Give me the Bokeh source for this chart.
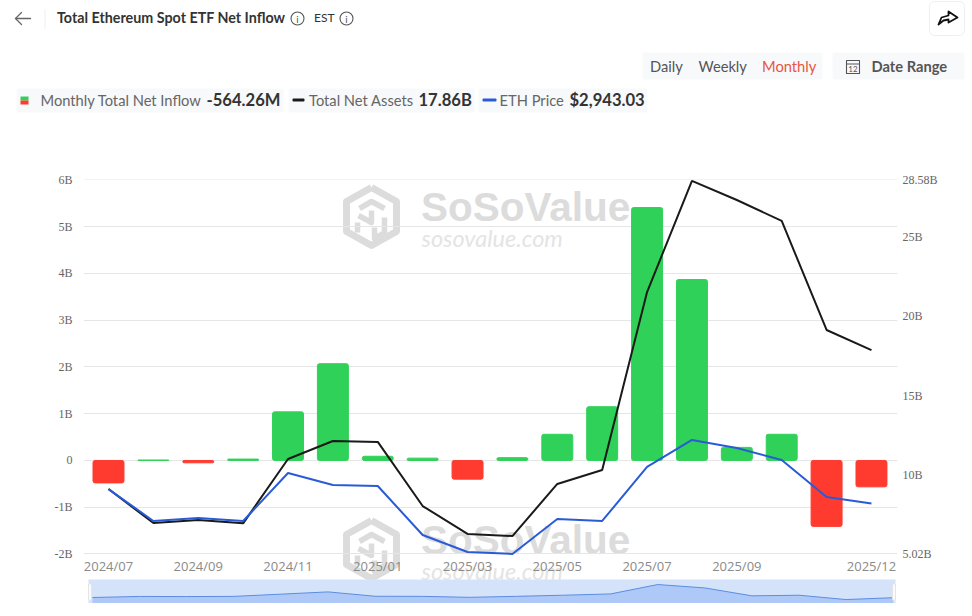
from bokeh.plotting import figure
from bokeh.embed import file_html
from bokeh.resources import INLINE
from bokeh.layouts import column
from bokeh.core.properties import value
from bokeh.models import Range1d, LinearAxis, FixedTicker, ColumnDataSource

months = ["2024/07", "2024/08", "2024/09", "2024/10", "2024/11", "2024/12",
          "2025/01", "2025/02", "2025/03", "2025/04", "2025/05", "2025/06",
          "2025/07", "2025/08", "2025/09", "2025/10", "2025/11", "2025/12"]
net_inflow = [-0.48, 0.01, -0.05, 0.03, 1.04, 2.07, 0.09, 0.05, -0.40, 0.06,
              0.56, 1.15, 5.41, 3.87, 0.28, 0.56, -1.41, -0.564]
net_assets = [9.11, 6.97, 7.16, 6.95, 11.0, 12.14, 12.08, 8.04, 6.28, 6.15,
              9.43, 10.31, 21.52, 28.52, 27.32, 26.0, 19.13, 17.86]
eth_price = [3270, 2545, 2613, 2545, 3638, 3365, 3342, 2226, 1839, 1793,
             2590, 2545, 3775, 4390, 4208, 3934, 3091, 2943]
shown_months = ["2024/07", "2024/09", "2024/11", "2025/01", "2025/03", "2025/05",
                "2025/07", "2025/09", "2025/12"]
left_ticks = [-2, -1, 0, 1, 2, 3, 4, 5, 6]
left_labels = ["-2B", "-1B", "0", "1B", "2B", "3B", "4B", "5B", "6B"]
right_ticks = [5.02, 10, 15, 20, 25, 28.58]
right_labels = ["5.02B", "10B", "15B", "20B", "25B", "28.58B"]

GREEN, RED, BLACK, BLUE = "#30d158", "#ff3b30", "#1a1a1a", "#2a5bd7"
idx = list(range(len(months)))
src = ColumnDataSource(dict(x=idx, v=net_inflow, a=net_assets, e=eth_price,
                            c=[GREEN if v >= 0 else RED for v in net_inflow]))

# ---------- header strip: its data space is the page's pixels ----------
head = figure(width=972, height=160, output_backend="svg", toolbar_location=None,
              x_range=Range1d(0, 972), y_range=Range1d(160, 0), frame_align=False,
              min_border_left=0, min_border_right=0, min_border_top=0, min_border_bottom=0,
              x_axis_location=None, y_axis_location=None)
head.outline_line_color = None
head.grid.visible = False


def text(fig, x, y, s, size=14.7, color="#666666", font="Lato", style="normal", align="left", **kw):
    fig.text(x=[x], y=[y], text=[s], text_font=value(font), text_font_size=f"{size}px",
             text_color=color, text_font_style=style, text_align=align,
             text_baseline="middle", **kw)


def box(x0, y0, x1, y1, fill="#f8f9fa", line=None, radius=2):
    head.quad(left=[x0], right=[x1], top=[y0], bottom=[y1], fill_color=fill, line_color=line,
              border_radius=radius)


def stroke(xs, ys, color="#555555", width=1.2):
    head.line(xs, ys, line_color=color, line_width=width, line_cap="round", line_join="round")


def info(cx, cy):
    head.circle(x=[cx], y=[cy], radius=6.5, fill_alpha=0, line_color="#555555", line_width=1.1)
    text(head, cx, cy, "i", 10, "#555555", align="center")


stroke([15, 30], [18, 18], "#666666", 1.3)
stroke([21, 15, 21], [12, 18, 24], "#666666", 1.3)
stroke([44.5, 44.5], [9, 28], "#eeeeee", 1)
text(head, 56.5, 17, "Total Ethereum Spot ETF Net Inflow", 14.3, "#333333", style="bold")
info(297, 18)
text(head, 313.5, 17, "EST", 12, "#333333")
info(346, 18)
box(929, 1, 964, 35, "#ffffff", "#eeeeee", 5)
stroke([938, 941, 948, 948, 957, 948, 948, 943, 938], [24, 17, 15, 11, 17, 22, 19, 20, 24], "#111111", 1.8)

box(642, 52, 822, 79)
text(head, 649.5, 65, "Daily", color="#555555")
text(head, 698, 65, "Weekly", color="#555555")
text(head, 761.5, 65, "Monthly", color="#e8553f")
box(832, 52, 964, 79)
stroke([846, 859, 859, 846, 846], [60, 60, 73, 73, 60], "#555555", 1.1)
stroke([846, 859], [63.5, 63.5], "#555555", 1.1)
text(head, 852.5, 68, "12", 8, "#555555", align="center")
text(head, 871, 65, "Date Range", 14.7, "#555555", style="bold")

box(16, 88, 283, 112)
box(288, 88, 474, 112)
box(478, 88, 647, 112)
box(20, 96, 28, 100, GREEN, radius=0)
box(20, 100, 28, 104, RED, radius=0)
text(head, 40, 99, "Monthly Total Net Inflow", color="#666666")
text(head, 206, 99, "-564.26M", 16.6, "#333333", style="bold")
box(292, 98, 304, 101, BLACK, radius=1)
text(head, 308.5, 99, "Total Net Assets", color="#666666")
text(head, 418, 99, "17.86B", 16.6, "#333333", style="bold")
box(482, 98, 496, 101, BLUE, radius=1)
text(head, 499, 99, "ETH Price", color="#666666")
text(head, 569, 99, "$2,943.03", 16.6, "#333333", style="bold")

# ---------- main chart: the frame runs on below -2B to hold the overview strip,
# and a little wider than the grid so the end tick labels are not clipped ----------
p = figure(width=972, height=443, output_backend="svg", toolbar_location=None,
           x_range=Range1d(-0.557, 17.58), y_range=Range1d(-3.0595, 6.01), frame_align=False,
           min_border_left=83, min_border_right=75, min_border_top=19, min_border_bottom=0)
p.outline_line_color = None
p.extra_y_ranges = {"assets": Range1d(1.90, 28.61), "price": Range1d(665, 10323),
                    "px_y": Range1d(603, 179), "nav_y": Range1d(-3.2, 189.4)}
p.extra_x_ranges = {"px_x": Range1d(83, 897), "nav_x": Range1d(-0.191, 17.091)}
p.xgrid.visible = False
p.ygrid.grid_line_color = "#e6e6e6"
p.ygrid.ticker = FixedTicker(ticks=left_ticks)

ya = p.yaxis[0]
ya.ticker = FixedTicker(ticks=left_ticks)
ya.major_label_overrides = dict(zip(left_ticks, left_labels))
right = LinearAxis(y_range_name="assets", ticker=FixedTicker(ticks=right_ticks),
                   major_label_overrides=dict(zip(right_ticks, right_labels)))
p.add_layout(right, "right")
for ax in (ya, right):
    ax.axis_line_color = None
    ax.major_tick_line_color = None
    ax.major_tick_out = 0
    ax.minor_tick_line_color = None
    ax.major_label_text_font = "Liberation Serif"
    ax.major_label_text_font_size = "12px"
    ax.major_label_text_color = "#666666"
ya.major_label_standoff = 11
right.major_label_standoff = 5

xa = p.xaxis[0]
xa.fixed_location = -2
xa.ticker = FixedTicker(ticks=[months.index(m) for m in shown_months])
xa.major_label_overrides = {months.index(m): m for m in shown_months}
xa.axis_line_color = None
xa.major_tick_line_color = None
xa.major_tick_out = 0
xa.minor_tick_line_color = None
xa.major_label_text_font = "Open Sans"
xa.major_label_text_font_size = "13px"
xa.major_label_text_color = "#8a8a8a"
xa.major_label_standoff = 3

PX = dict(x_range_name="px_x", y_range_name="px_y")

# keep the gridlines to their own span
p.quad(left=[83, 895], right=[86, 897], top=[170, 170], bottom=[560, 560], fill_color="#ffffff",
       line_color=None, level="underlay", **PX)


def watermark(dy):
    g = "#dcdcdc"
    kw = dict(level="image", **PX)

    def seg(xs, ys, w):
        p.line(xs, [y + dy for y in ys], line_color=g, line_width=w, line_join="round", **kw)
    seg([371, 396, 396, 371, 346, 346, 371], [187, 201, 231, 245, 231, 201, 187], 7)
    seg([359, 371, 384], [208, 201, 208], 5.5)
    seg([371, 371, 358], [210, 222, 215], 5.5)
    seg([357, 357], [222, 232], 5.5)
    seg([384, 384, 374, 374], [217, 232, 238, 227], 5.5)
    text(p, 420.5, 206.5 + dy, "SoSoValue", 40.5, g, "Liberation Sans", "bold", **kw)
    text(p, 421, 237 + dy, "sosovalue.com", 23.5, "#e4e4e4", "Lato", "italic", **kw)


watermark(0)
watermark(333)

p.vbar(x="x", top="v", bottom=0, width=0.69, color="c", source=src, border_radius=2)
p.line("x", "a", y_range_name="assets", line_color=BLACK, line_width=2, source=src)
p.line("x", "e", y_range_name="price", line_color=BLUE, line_width=2, source=src)

# overview strip
p.quad(left=[88], right=[895], top=[579], bottom=[603], fill_color="#d5e3fa", line_color=None, **PX)
p.varea(x="x", y1=-3.2, y2="v", source=src, fill_color="#aec9f7",
        x_range_name="nav_x", y_range_name="nav_y")
p.line("x", "v", source=src, line_color="#5b8de0", line_width=1,
       x_range_name="nav_x", y_range_name="nav_y")
p.quad(left=[88, 892], right=[91, 895], top=[583, 583], bottom=[600, 600], fill_color="#ffffff",
       fill_alpha=0.85, line_color="#e4e4e4", border_radius=2, **PX)

layout = column(head, p, spacing=0)
open("out.html", "w").write(file_html(layout, INLINE))
